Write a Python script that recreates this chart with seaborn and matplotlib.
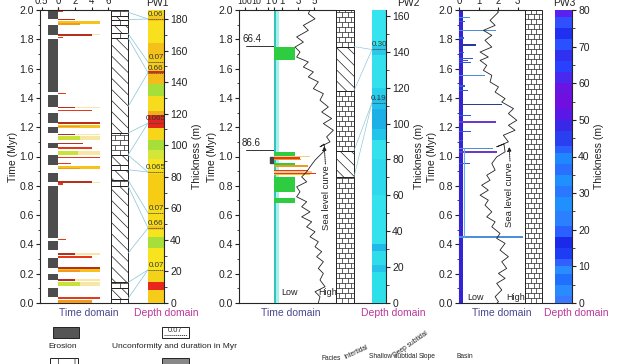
import numpy as np
import matplotlib
matplotlib.use('Agg')
import matplotlib.pyplot as plt
import seaborn as sns
from matplotlib.patches import Rectangle, ConnectionPatch
from matplotlib.collections import LineCollection

# ---------------- data ----------------
# panel 1 (PW1): erosion intervals (Myr) and erosion amount
p1_ero_start = [0.04, 0.16, 0.24, 0.36, 0.445, 0.825, 0.94, 1.06, 1.16, 1.23, 1.34, 1.44, 1.83, 1.94]
p1_ero_end = [0.10, 0.20, 0.31, 0.425, 0.80, 0.89, 1.01, 1.09, 1.20, 1.30, 1.42, 1.80, 1.895, 1.99]
p1_ero_amount = [0.31, 0.31, 0.31, 0.31, 0.31, 0.31, 0.31, 0.31, 0.31, 0.31, 0.31, 0.31, 0.31, 0.31]

# panel 1 time-domain bars: time, length, colour key, thickness
p1_bar_time = [1.993, 1.934, 1.915, 1.903, 1.830, 1.830, 1.812, 1.430, 1.335, 1.335, 1.315,
               1.228, 1.205, 1.203, 1.150, 1.150, 1.125, 1.125, 1.090, 1.057, 1.025, 1.025, 0.995,
               0.954, 0.925, 0.918, 0.825, 0.825, 0.812, 0.435, 0.334, 0.334, 0.315,
               0.240, 0.222, 0.220, 0.157, 0.157, 0.128, 0.128, 0.035, 0.012]
p1_bar_len = [0.6, 2.0, 5.0, 2.6, 5.0, 4.0, 0.6, 1.0, 5.0, 2.0, 4.0,
              5.0, 5.0, 2.6, 5.0, 2.0, 5.0, 2.6, 3.0, 4.0, 5.0, 2.4, 5.0,
              1.6, 5.0, 2.6, 5.0, 4.0, 0.6, 1.0, 5.0, 2.0, 4.0,
              5.0, 5.0, 2.6, 5.0, 2.0, 5.0, 2.6, 5.0, 4.0]
p1_bar_col = ['r', 'dr', 'y', 'o', 'ly', 'dr', 'r', 'r', 'ly', 'dr', 'r',
              'dr', 'y', 'o', 'ly', 'dr', 'ly', 'g', 'dr', 'r', 'ly', 'g', 'r',
              'r', 'y', 'o', 'ly', 'dr', 'r', 'r', 'ly', 'dr', 'r',
              'dr', 'y', 'o', 'ly', 'dr', 'ly', 'g', 'r', 'o']
p1_bar_h = [0.009, 0.009, 0.02, 0.01, 0.008, 0.009, 0.009, 0.009, 0.008, 0.009, 0.009,
            0.012, 0.02, 0.01, 0.008, 0.009, 0.025, 0.025, 0.009, 0.009, 0.025, 0.025, 0.009,
            0.009, 0.02, 0.01, 0.008, 0.009, 0.009, 0.009, 0.008, 0.009, 0.009,
            0.012, 0.02, 0.01, 0.008, 0.009, 0.025, 0.025, 0.009, 0.02]

# lithology columns: bottom, top, kind
p1_lith_bottom = [0.00, 0.03, 0.10, 0.14, 0.80, 0.84, 0.91, 0.94, 1.01, 1.16, 1.81, 1.84, 1.90, 1.93, 1.96]
p1_lith_top = [0.03, 0.10, 0.14, 0.80, 0.84, 0.91, 0.94, 1.01, 1.16, 1.81, 1.84, 1.90, 1.93, 1.96, 2.00]
p1_lith_kind = ['lime', 'diag', 'lime', 'diag', 'lime', 'diag', 'lime', 'diag',
                'lime', 'diag', 'lime', 'diag', 'lime', 'diag', 'lime']
p2_lith_bottom = [0.00, 0.86, 1.04, 1.45, 1.75]
p2_lith_top = [0.86, 1.04, 1.45, 1.75, 2.00]
p2_lith_kind = ['lime', 'diag', 'lime', 'diag', 'lime']
p3_lith_bottom = [0.00]
p3_lith_top = [2.00]
p3_lith_kind = ['lime']

# depth-domain colour bands (m)
pw1_edges = [0, 8, 13, 20, 35, 42, 46, 49, 61, 82, 84, 91, 97, 103, 111, 119, 122,
             131, 139, 145.5, 147, 156, 165, 179, 182, 185.7]
pw1_colors = ['#f6cc1a', '#e8261c', '#f5d21a', '#f8e41e', '#a6de3a', '#f6e41c', '#f5c41a',
              '#f7dc1c', '#f6cc14', '#f6da1c', '#f8e41e', '#d4e63a', '#a6de3a', '#f6d51a',
              '#e3261c', '#f2ae1a', '#f6dc1c', '#a6de3a', '#f4bc1a', '#d82a1c', '#f5cc1a',
              '#f4c01a', '#f8e01e', '#f5c81a', '#f8da1e']
pw2_edges = [0, 17, 21, 29, 33, 60, 80, 91, 97, 108, 115, 120, 138, 143, 163.3]
pw2_colors = ['#2ce0ea', '#26c4ea', '#30dcea', '#22b8e8', '#33e2ec', '#2fd8ea', '#33e2ec',
              '#22c4ea', '#1cb0e6', '#22c0ea', '#2ad0ea', '#33e0ec', '#2cc8ea', '#35e4ee']
pw3_edges = [0, 2, 5, 8, 10, 12, 15, 18, 21, 25, 29, 32, 35, 38, 41, 43, 47, 50, 53,
             57, 60, 63, 66, 69, 72, 75, 78, 80]
pw3_colors = ['#3a78ff', '#2a8aff', '#2070ff', '#2a8cff', '#3060ff', '#1e3cf4', '#1a2ae8',
              '#2a60ff', '#2a80ff', '#2090ff', '#2a78ff', '#2090ff', '#2a70ff', '#2088ff',
              '#2a60ff', '#2a40f0', '#3a28e8', '#5a18e8', '#7010e0', '#6a14e4', '#4a28f0',
              '#2a40ff', '#3030f0', '#2a50ff', '#2030f0', '#3050ff', '#5a20f0']

# unconformities and time-depth tie lines
p1_unconf_depth = [180, 152.7, 146, 114, 83, 57, 47.5, 21]
p1_unconf_label = ['0.06', '0.07', '0.66', '0.065', '0.065', '0.07', '0.66', '0.07']
p1_link_time = [1.985, 1.935, 1.84, 1.81, 1.34, 1.16, 1.01, 1.01, 0.91, 0.84, 0.80, 0.34, 0.14, 0.03]
p1_link_depth = [180, 180, 152.7, 146, 146, 114, 114, 83, 83, 57, 47.5, 47.5, 21, 21]
p2_unconf_depth = [141.3, 111.7]
p2_unconf_label = ['0.30', '0.19']
p2_link_time = [1.75, 1.45, 1.04, 0.86]
p2_link_depth = [141.3, 141.3, 111.7, 111.7]

# panel 2 (PW2): bars
p2_bar_time = [1.72, 1.675, 1.693, 1.584, 1.015, 0.94, 0.81, 0.70,
               1.0, 0.99, 0.978, 0.935, 0.907, 0.895, 0.886, 0.875]
p2_bar_len = [2.6, 2.6, 2.2, 1.6, 2.6, 2.6, 2.6, 2.6,
              4.5, 3.3, 3.4, 4.2, 4.3, 4.8, 5.3, 4.5]
p2_bar_col = ['gr', 'gr', 'y', 'gr', 'gr', 'gr', 'gr', 'gr',
              'lo', 'r', 'o', 'o', 'r', 'lo', 'r', 'y']
p2_bar_h = [0.05, 0.03, 0.005, 0.006, 0.03, 0.025, 0.10, 0.035,
            0.008, 0.008, 0.008, 0.008, 0.008, 0.01, 0.008, 0.008]
p2_ero_time = [0.975]
p2_ero_val = [0.4]
p2_mark_time = [1.752, 1.043]
p2_mark_label = ['66.4', '86.6']

# panel 3 (PW3): bars
p3_bar_time = [1.95, 1.92, 1.86, 1.81, 1.76, 1.71, 1.67, 1.655, 1.64, 1.554, 1.48, 1.45,
               1.356, 1.28, 1.236, 1.17, 1.11, 1.055, 1.03, 0.952, 0.45]
p3_bar_len = [0.56, 0.3, 1.88, 0.25, 0.86, 0.25, 0.7, 0.45, 0.6, 1.33, 0.3, 0.45,
              2.2, 0.6, 1.88, 0.6, 0.2, 1.75, 1.95, 0.56, 3.3]
p3_bar_col = ['lb', 'b', 'lb', 'b', 'db', 'b', 'b', 'p', 'b', 'lb', 'b', 'b',
              'db', 'b', 'p', 'b', 'b', 'lb', 'p', 'b', 'lb']

# sea level curves (time in Myr, relative level)
p2_sea_time = [2.0, 1.975, 1.940, 1.895, 1.861, 1.816, 1.781, 1.747, 1.713, 1.679, 1.645,
               1.611, 1.577, 1.543, 1.509, 1.463, 1.429, 1.384, 1.338, 1.304, 1.259, 1.225,
               1.179, 1.134, 1.100, 1.066, 1.085, 1.043, 1.009, 0.975, 0.929, 0.895, 0.861,
               0.827, 0.793, 0.759, 0.725, 0.691, 0.657, 0.622, 0.588, 0.554, 0.520, 0.486,
               0.452, 0.418, 0.384, 0.350, 0.316, 0.282, 0.236, 0.202, 0.157, 0.111, 0.077,
               0.043, 0.0]
p2_sea_val = [4.5, 4.29, 5.13, 3.67, 4.29, 2.83, 3.67, 2.63, 3.25, 2.83, 4.29,
              3.67, 4.92, 4.29, 5.54, 4.92, 6.17, 5.75, 6.79, 5.96, 7.21, 6.17,
              7.42, 6.58, 7.0, 5.75, 6.25, 6.38, 5.75, 5.13, 4.5, 4.08, 3.46,
              4.08, 2.83, 3.25, 2.83, 4.08, 3.46, 4.5, 3.46, 4.71, 4.08, 5.13,
              4.5, 5.54, 5.13, 5.96, 5.33, 6.17, 5.54, 6.17, 5.75, 6.38, 5.13,
              5.75, 5.54]
p3_sea_time = [2.0, 1.986, 1.929, 1.895, 1.861, 1.827, 1.793, 1.747, 1.713, 1.679, 1.656,
               1.622, 1.588, 1.554, 1.509, 1.475, 1.440, 1.395, 1.372, 1.327, 1.293, 1.247,
               1.213, 1.179, 1.145, 1.100, 1.066, 1.085, 1.032, 0.997, 0.952, 0.907, 0.872,
               0.838, 0.804, 0.770, 0.736, 0.702, 0.668, 0.622, 0.588, 0.554, 0.520, 0.475,
               0.441, 0.407, 0.361, 0.316, 0.282, 0.236, 0.202, 0.168, 0.134, 0.089, 0.043,
               0.009, 0.0]
p3_sea_val = [1.93, 2.02, 1.59, 1.85, 1.25, 1.68, 1.33, 1.68, 1.08, 1.50, 1.08,
              1.42, 1.25, 1.68, 1.59, 2.02, 1.85, 2.36, 2.19, 2.79, 2.53, 2.96,
              2.53, 2.87, 2.27, 2.53, 1.93, 2.30, 2.36, 1.93, 1.68, 1.85, 1.42,
              1.59, 1.16, 1.50, 1.08, 1.50, 1.33, 1.68, 1.42, 1.85, 1.68, 2.10,
              1.93, 2.36, 2.10, 2.53, 2.19, 2.44, 2.02, 2.36, 1.93, 2.19, 1.85,
              2.02, 1.95]

pal = {'dr': '#b8301c', 'r': '#e23a1c', 'o': '#f09a1e', 'y': '#f6c31c', 'g': '#c8e23c',
       'ly': '#f8e6a4', 'lo': '#f7c98a', 'gr': '#2ecc40',
       'lb': '#4a8fd8', 'b': '#2a5ad8', 'p': '#6a3ad0', 'db': '#2a3a9a'}

# ---------------- figure ----------------
sns.set_style('ticks')
plt.rcParams['font.family'] = ['Liberation Sans', 'DejaVu Sans']
plt.rcParams['hatch.linewidth'] = 0.5
plt.rcParams['axes.linewidth'] = 0.8

W, H = 631, 364
TOP, BOT = 10, 303
fig = plt.figure(figsize=(W / 100, H / 100), dpi=100)
fig.patch.set_facecolor('white')


def add_ax(x0, x1, y0=TOP, y1=BOT):
    ax = fig.add_axes([x0 / W, 1 - y1 / H, (x1 - x0) / W, (y1 - y0) / H])
    ax.patch.set_alpha(0)
    return ax


def time_axis(ax):
    ax.set_ylim(0, 2)
    ax.set_xlim(0, 1)
    ax.set_yticks(np.arange(0, 2.01, 0.2))
    ax.set_yticklabels([f'{v:.1f}' for v in np.arange(0, 2.01, 0.2)])
    ax.set_yticks(np.arange(0.1, 2.0, 0.2), minor=True)
    ax.set_xticks([])
    for s in ['top', 'right']:
        ax.spines[s].set_visible(False)
    ax.tick_params(axis='y', which='major', length=3, width=0.8, pad=1.5, labelsize=7.5, colors='#222')
    ax.tick_params(axis='y', which='minor', length=1.8, width=0.6)
    ax.set_ylabel('Time (Myr)', fontsize=7.5, labelpad=1, color='#222')


def top_axis(ax, xlim, ticks, labels, scale='linear', size=7):
    ax.set_xscale(scale)
    ax.set_xlim(*xlim)
    ax.set_ylim(0, 2)
    ax.xaxis.tick_top()
    ax.set_xticks(ticks)
    ax.set_xticklabels(labels)
    ax.minorticks_off()
    ax.set_yticks([])
    for s in ['left', 'right', 'bottom']:
        ax.spines[s].set_visible(False)
    ax.tick_params(axis='x', length=2.5, width=0.8, pad=0.3, labelsize=size, colors='#222')


def depth_axis(ax, top, step, minor, edges, colors, title, title_x):
    ax.set_ylim(0, top)
    ax.set_xlim(0, 1)
    ax.barh(edges[:-1], 1, height=np.diff(edges), left=0, align='edge', color=colors, linewidth=0)
    ax.yaxis.tick_right()
    ax.yaxis.set_label_position('right')
    ax.set_yticks(np.arange(0, top + 0.01, step))
    ax.set_yticks(np.arange(minor, top, step), minor=True)
    ax.set_xticks([])
    for s in ['left', 'top', 'bottom']:
        ax.spines[s].set_visible(False)
    ax.tick_params(axis='y', which='major', length=3, width=0.8, pad=1.5, labelsize=7.5, colors='#222')
    ax.tick_params(axis='y', which='minor', length=1.8, width=0.6)
    ax.set_ylabel('Thickness (m)', fontsize=7.5, labelpad=3, color='#222')
    fig.text(title_x / W, 1 - 3 / H, title, ha='center', va='center', fontsize=7.5, color='#222')


def draw_litho(ax, bottoms, tops, kinds, joints_a, joints_b, brick_h=0.034):
    ax.set_xlim(0, 1)
    ax.set_ylim(0, 2)
    ax.axis('off')
    segs = []
    for b, t, k in zip(bottoms, tops, kinds):
        if k == 'diag':
            ax.add_patch(Rectangle((0, b), 1, t - b, facecolor='white', edgecolor='#222',
                                   hatch='\\\\\\', lw=0.7, clip_on=False))
        else:
            ax.add_patch(Rectangle((0, b), 1, t - b, facecolor='white', edgecolor='#222',
                                   lw=0.7, clip_on=False))
            for i, r in enumerate(np.arange(b, t, brick_h)):
                r2 = min(r + brick_h, t)
                segs.append([(0, r), (1, r)])
                for jx in (joints_a if i % 2 == 0 else joints_b):
                    segs.append([(jx, r), (jx, r2)])
    ax.add_collection(LineCollection(segs, colors='#222', linewidths=0.5))


def unconformities(ax, depths, labels):
    for d, lab in zip(depths, labels):
        ax.plot([0.02, 0.98], [d, d], ls=(0, (1.2, 0.8)), lw=0.7, color='#444')
        ax.text(0.5, d + 0.6, lab, ha='center', va='bottom', fontsize=5.8, color='#333', clip_on=False)


def tie_lines(ax_from, ax_to, times, depths, style='-'):
    for t, d in zip(times, depths):
        con = ConnectionPatch(xyA=(1, t), coordsA=ax_from.transData, xyB=(0, d), coordsB=ax_to.transData,
                              color='#86c3d6', lw=0.5, ls=style)
        fig.add_artist(con)


# ---------- panel 1 ----------
axT1 = add_ax(40, 164)
time_axis(axT1)
axL1 = add_ax(111, 128)
draw_litho(axL1, p1_lith_bottom, p1_lith_top, p1_lith_kind, [0.5], [0.25, 0.75])
axD1 = add_ax(148, 164)
depth_axis(axD1, 185.7, 20, 10, pw1_edges, pw1_colors, 'PW1', 157)
unconformities(axD1, p1_unconf_depth, p1_unconf_label)
tie_lines(axL1, axD1, p1_link_time, p1_link_depth)

axE1 = add_ax(40, 58)
top_axis(axE1, (0.55, 0), [0.5, 0], ['0.5', ''])
axE1.barh([(s + e) / 2 for s, e in zip(p1_ero_start, p1_ero_end)], p1_ero_amount,
          height=np.subtract(p1_ero_end, p1_ero_start), left=0, color='#4d4d4d', linewidth=0)

axB1 = add_ax(58, 110)
top_axis(axB1, (0, 6.2), [0, 2, 4, 6], ['0', '2', '4', '6'])
axB1.barh(p1_bar_time, p1_bar_len, height=p1_bar_h, left=0,
          color=[pal[c] for c in p1_bar_col], linewidth=0)

# ---------- panel 2 ----------
axT2 = add_ax(239, 386)
time_axis(axT2)
axL2 = add_ax(336, 354)
draw_litho(axL2, p2_lith_bottom, p2_lith_top, p2_lith_kind, [1 / 3, 2 / 3], [1 / 6, 0.5, 5 / 6])
axD2 = add_ax(372, 386)
depth_axis(axD2, 163.3, 20, 10, pw2_edges, pw2_colors, 'PW2', 408)
unconformities(axD2, p2_unconf_depth, p2_unconf_label)
tie_lines(axL2, axD2, p2_link_time, p2_link_depth, style=(0, (2, 1)))

axE2 = add_ax(239, 274)
top_axis(axE2, (300, 0.3), [100, 10, 1], ['100', '10', '1'], scale='log', size=6.3)
axE2.scatter(p2_ero_val, p2_ero_time, marker='s', s=14, color='#444', zorder=3)
for t, lab in zip(p2_mark_time, p2_mark_label):
    axE2.plot([80, 0.3], [t, t], color='#333', lw=0.7)
    axE2.text(25, t + 0.015, lab, ha='center', va='bottom', fontsize=7, color='#222')

axB2 = add_ax(274, 336)
top_axis(axB2, (0, 7.75), [0, 1, 3, 5], ['0', '1', '3', '5'])
axB2.axvspan(0.3, 0.6, color='#a8f0ec', lw=0)
axB2.axvspan(-0.05, 0.3, color='#33c4b8', lw=0)
axB2.barh(p2_bar_time, p2_bar_len, height=p2_bar_h, left=0,
          color=[pal[c] for c in p2_bar_col], linewidth=0)
sns.lineplot(x=p2_sea_val, y=p2_sea_time, sort=False, estimator=None, color='#222', lw=0.6, ax=axB2)
axB2.set_ylim(0, 2)
axB2.set_xlabel('')
axB2.set_ylabel('')
axB2.text(6.6, 0.72, 'Sea level curve', rotation=90, ha='center', va='center', fontsize=6.8, color='#222')
axB2.annotate('', xy=(6.25, 1.09), xytext=(6.45, 0.93),
              arrowprops=dict(arrowstyle='-|>', ls=(0, (1, 1)), lw=0.7, color='#222', mutation_scale=6))
axB2.text(2.0, 0.075, 'Low', ha='center', va='center', fontsize=6.5, color='#222')
axB2.text(6.7, 0.075, 'High', ha='center', va='center', fontsize=6.5, color='#222')

# ---------- panel 3 ----------
axT3 = add_ax(459, 572)
time_axis(axT3)
axL3 = add_ax(525, 542)
draw_litho(axL3, p3_lith_bottom, p3_lith_top, p3_lith_kind, [1 / 3, 2 / 3], [1 / 6, 0.5, 5 / 6])
axD3 = add_ax(555, 572)
depth_axis(axD3, 80, 10, 5, pw3_edges, pw3_colors, 'PW3', 564)

axB3 = add_ax(459, 525)
top_axis(axB3, (0, 3.38), [0, 1, 2, 3], ['0', '1', '2', '3'])
axB3.axvspan(0, 0.2, color='#3424d8', lw=0)
axB3.plot([0.25, 0.25], [0.45, 1.055], color='#6aaae8', lw=0.8)
axB3.barh(p3_bar_time, p3_bar_len, height=0.01, left=0,
          color=[pal[c] for c in p3_bar_col], linewidth=0)
sns.lineplot(x=p3_sea_val, y=p3_sea_time, sort=False, estimator=None, color='#222', lw=0.6, ax=axB3)
axB3.set_ylim(0, 2)
axB3.set_xlabel('')
axB3.set_ylabel('')
axB3.text(2.6, 0.74, 'Sea level curve', rotation=90, ha='center', va='center', fontsize=6.8, color='#222')
axB3.annotate('', xy=(2.56, 1.085), xytext=(2.62, 0.95),
              arrowprops=dict(arrowstyle='-|>', ls=(0, (1, 1)), lw=0.7, color='#222', mutation_scale=6))
axB3.text(0.85, 0.04, 'Low', ha='center', va='center', fontsize=6.5, color='#222')
axB3.text(2.9, 0.04, 'High', ha='center', va='center', fontsize=6.5, color='#222')

# ---------- domain captions ----------
for x in [89, 291, 502]:
    fig.text(x / W, 1 - 313 / H, 'Time domain', ha='center', va='center', fontsize=7.5, color='#4b4690')
for x in [166, 393, 576]:
    fig.text(x / W, 1 - 313 / H, 'Depth domain', ha='center', va='center', fontsize=7.5, color='#b8389a')


# ---------- legend ----------
def fig_rect(x, y, w, h, **kw):
    fig.add_artist(Rectangle((x / W, 1 - (y + h) / H), w / W, h / H, transform=fig.transFigure, **kw))


fig_rect(53, 327, 26, 11, facecolor='#555555', edgecolor='#222', lw=0.7)
fig_rect(162, 327, 27, 11, facecolor='white', edgecolor='#222', lw=0.7)
fig.text(175.5 / W, 1 - 331 / H, '0.07', ha='center', va='center', fontsize=5.5, color='#333')
fig.add_artist(plt.Line2D([164 / W, 187 / W], [1 - 335 / H, 1 - 335 / H], transform=fig.transFigure,
                          ls=(0, (1.2, 0.8)), lw=0.7, color='#444'))
fig.text(63 / W, 1 - 347 / H, 'Erosion', ha='center', va='center', fontsize=6, color='#222')
fig.text(175 / W, 1 - 347 / H, 'Unconformity and duration in Myr', ha='center', va='center', fontsize=6, color='#222')
fig_rect(50, 358, 28, 12, facecolor='white', edgecolor='#222', lw=0.7, hatch='|')
fig_rect(162, 358, 27, 12, facecolor='#888888', edgecolor='#222', lw=0.7)

facies_kw = dict(fontsize=4.8, color='#222', ha='center', va='center')
fig.text(331 / W, 1 - 358 / H, 'Facies', **facies_kw)
fig.text(356 / W, 1 - 352 / H, 'Intertidal', rotation=25, **facies_kw)
fig.text(393 / W, 1 - 357 / H, 'Shallow subtidal', **facies_kw)
fig.text(411 / W, 1 - 344 / H, 'Deep subtidal', rotation=35, **facies_kw)
fig.text(427 / W, 1 - 357 / H, 'Slope', **facies_kw)
fig.text(465 / W, 1 - 357 / H, 'Basin', **facies_kw)

fig.savefig('out.png', dpi=100)
